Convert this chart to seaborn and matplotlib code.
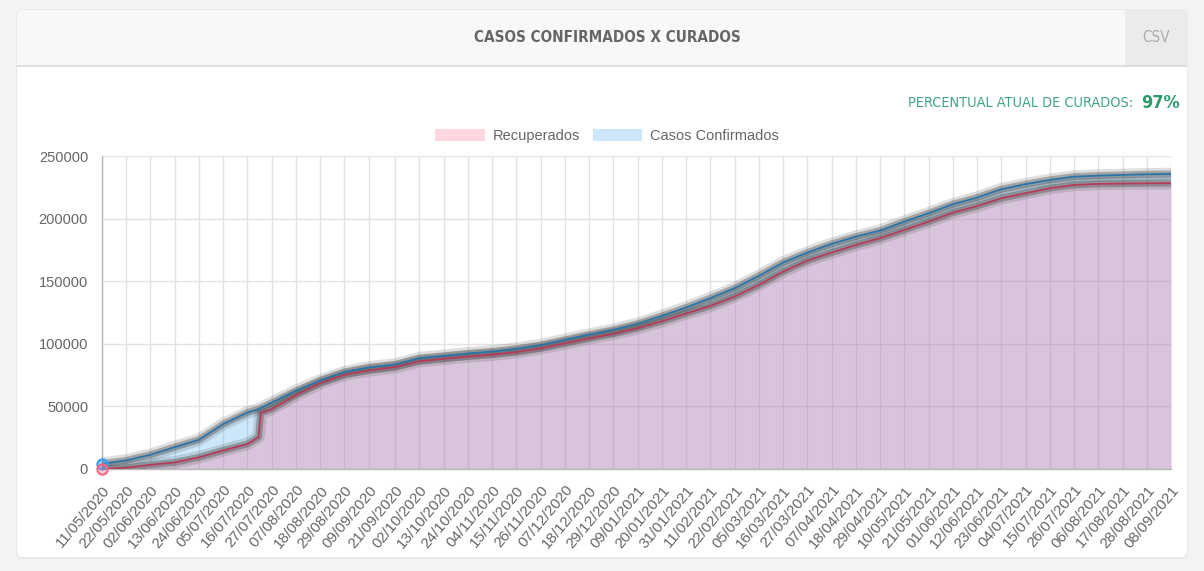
# painel "casos confirmados x curados" - recriado com seaborn

import matplotlib
matplotlib.use("Agg")
import matplotlib.pyplot as plt
from matplotlib.patches import FancyBboxPatch, Rectangle, Patch
from matplotlib.transforms import IdentityTransform
import numpy as np
import pandas as pd
import seaborn as sns

# dados (datas dos ticks + o salto de recuperados em 21-22/07/2020)
datas = [
    "11/05/2020", "22/05/2020", "02/06/2020", "13/06/2020", "24/06/2020",
    "05/07/2020", "16/07/2020", "21/07/2020", "22/07/2020", "27/07/2020",
    "07/08/2020", "18/08/2020", "29/08/2020", "09/09/2020", "21/09/2020",
    "02/10/2020", "13/10/2020", "24/10/2020", "04/11/2020", "15/11/2020",
    "26/11/2020", "07/12/2020", "18/12/2020", "29/12/2020", "09/01/2021",
    "20/01/2021", "31/01/2021", "11/02/2021", "22/02/2021", "05/03/2021",
    "16/03/2021", "27/03/2021", "07/04/2021", "18/04/2021", "29/04/2021",
    "10/05/2021", "21/05/2021", "01/06/2021", "12/06/2021", "23/06/2021",
    "04/07/2021", "15/07/2021", "26/07/2021", "06/08/2021", "17/08/2021",
    "28/08/2021", "08/09/2021",
]
confirmados = [
    4200, 6900, 11400, 17500, 23400,
    35900, 45200, 47800, 48600, 53000,
    62500, 70700, 77400, 81100, 83500,
    88600, 90400, 92300, 93900, 96000,
    99000, 103200, 107400, 111200, 116000,
    122300, 129000, 136500, 144400, 154300,
    164900, 172900, 179800, 185600, 190400,
    197600, 204300, 211500, 216800, 223500,
    227500, 230900, 233500, 234300, 234900,
    235400, 235700,
]
recuperados = [
    0, 1000, 3400, 5300, 9300,
    14900, 20000, 25500, 44700, 47900,
    59000, 68600, 75300, 78700, 81400,
    86000, 88000, 89800, 91300, 93300,
    96300, 100300, 104300, 108000, 112500,
    118000, 124200, 130300, 137800, 147100,
    157700, 166500, 172900, 179000, 184400,
    191000, 197600, 204800, 210000, 216300,
    220300, 224300, 226900, 227700, 228000,
    228200, 228300,
]
tick_labels = [d for d in datas if d not in ("21/07/2020", "22/07/2020")]
yticks = [0, 50000, 100000, 150000, 200000, 250000]
percentual = "97%"

AZUL = (54 / 255, 162 / 255, 235 / 255)
ROSA = (255 / 255, 99 / 255, 132 / 255)
LINHA_AZUL = "#2a74a8"
LINHA_ROSA = "#b83a58"
CINZA_TXT = "#666666"
GRADE = "#e2e2e2"

sns.set_theme(style="white")
plt.rcParams["font.family"] = ["Liberation Sans", "DejaVu Sans"]

W, H = 1204, 571
fig = plt.figure(figsize=(W / 100, H / 100), dpi=100, facecolor="#f3f3f3")


def px(x0, y0, x1, y1):
    # retangulo em pixels (origem no topo) -> coordenadas de display
    return x0, H - y1, x1 - x0, y1 - y0


def fx(x):
    return x / W


def fy(y):
    return 1 - y / H


# cartao branco com sombra leve
x, y, w, h = px(17, 10, 1187, 557)
fig.add_artist(FancyBboxPatch((x - 1, y - 2), w + 2, h + 3,
                              boxstyle="round,pad=0,rounding_size=6",
                              transform=IdentityTransform(), facecolor="#e9e9e9",
                              edgecolor="none", zorder=0))
fig.add_artist(FancyBboxPatch((x, y), w, h, boxstyle="round,pad=0,rounding_size=6",
                              transform=IdentityTransform(), facecolor="white",
                              edgecolor="none", zorder=0))

# cabecalho
x, y, w, h = px(17, 10, 1187, 66)
fig.add_artist(FancyBboxPatch((x, y), w, h, boxstyle="round,pad=0,rounding_size=5",
                              transform=IdentityTransform(), facecolor="#f9f8f9",
                              edgecolor="none", zorder=1))
x, y, w, h = px(17, 40, 1187, 66)
fig.add_artist(Rectangle((x, y), w, h, transform=IdentityTransform(),
                         facecolor="#f9f8f9", edgecolor="none", zorder=1))
x, y, w, h = px(1125, 10, 1187, 66)
fig.add_artist(Rectangle((x, y), w, h, transform=IdentityTransform(),
                         facecolor="#ebebeb", edgecolor="none", zorder=1))
x, y, w, h = px(17, 65, 1187, 67)
fig.add_artist(Rectangle((x, y), w, h, transform=IdentityTransform(),
                         facecolor="#dedede", edgecolor="none", zorder=1))

fig.text(fx(607), fy(38), "CASOS CONFIRMADOS X CURADOS", ha="center", va="center",
         fontsize=11, fontweight="bold", fontstretch="condensed",
         family=["DejaVu Sans"], color=CINZA_TXT, zorder=2)
fig.text(fx(1156), fy(38), "CSV", ha="center", va="center", fontsize=11,
         fontstretch="condensed", family=["DejaVu Sans"], color="#ababab", zorder=2)

# percentual de curados
fig.text(fx(1180), fy(103), percentual, ha="right", va="center", fontsize=13,
         fontweight="bold", fontstretch="condensed", family=["DejaVu Sans"],
         color="#2e9a6c", zorder=2)
fig.text(fx(1133), fy(103), "PERCENTUAL ATUAL DE CURADOS:", ha="right", va="center",
         fontsize=10.4, fontstretch="condensed", family=["DejaVu Sans"],
         color="#41a67e", zorder=2)

# grafico
ax = fig.add_axes([fx(102), fy(469), fx(1171) - fx(102), fy(156) - fy(469)])
ax.set_facecolor("none")

df = pd.DataFrame({
    "data": pd.to_datetime(datas, format="%d/%m/%Y"),
    "confirmados": confirmados,
    "recuperados": recuperados,
})

ax.fill_between(df["data"], 0, df["confirmados"], color=AZUL, alpha=0.25, lw=0, zorder=2)
ax.fill_between(df["data"], 0, df["recuperados"], color=ROSA, alpha=0.25, lw=0, zorder=2)

# linhas com sombra cinza (os pontos do chart.js viram uma faixa borrada)
for col, cor in [("recuperados", LINHA_ROSA), ("confirmados", LINHA_AZUL)]:
    sns.lineplot(data=df, x="data", y=col, ax=ax, color="#4d4d4d", lw=9, alpha=0.18,
                 legend=False, zorder=3)
    sns.lineplot(data=df, x="data", y=col, ax=ax, color="#4d4d4d", lw=5, alpha=0.4,
                 legend=False, zorder=3)
    sns.lineplot(data=df, x="data", y=col, ax=ax, color=cor, lw=1.3, legend=False, zorder=4)

# pontos iniciais
ax.scatter([df["data"].iloc[0]], [confirmados[0]], s=55, color=(*AZUL, 0.5),
           edgecolor=AZUL, lw=1.5, zorder=5, clip_on=False)
ax.scatter([df["data"].iloc[0]], [recuperados[0]], s=55, color=(*ROSA, 0.3),
           edgecolor=ROSA, lw=1.5, zorder=5, clip_on=False)

ax.set_xlim(df["data"].iloc[0], df["data"].iloc[-1])
ax.set_ylim(0, 250000)
ax.set_yticks(yticks)
ax.set_yticklabels([str(v) for v in yticks])
ax.set_xticks(pd.to_datetime(tick_labels, format="%d/%m/%Y"))
ax.set_xticklabels(tick_labels, rotation=50, ha="right", rotation_mode="anchor")
ax.set_xlabel("")
ax.set_ylabel("")

ax.grid(True, color=GRADE, lw=1)
ax.set_axisbelow(True)
ax.tick_params(axis="both", length=7, width=1, color=GRADE, labelcolor=CINZA_TXT,
               pad=3)
ax.tick_params(axis="x", labelsize=11)
ax.tick_params(axis="y", labelsize=10.5)
for lado in ["top", "right"]:
    ax.spines[lado].set_visible(False)
for lado in ["left", "bottom"]:
    ax.spines[lado].set_color("#b8b8b8")
    ax.spines[lado].set_linewidth(1)

# legenda
handles = [
    Patch(facecolor=(*ROSA, 0.25), edgecolor="none", label="Recuperados"),
    Patch(facecolor=(*AZUL, 0.25), edgecolor="none", label="Casos Confirmados"),
]
leg = fig.legend(handles=handles, loc="center", bbox_to_anchor=(fx(607), fy(136)),
                 ncol=2, frameon=False, fontsize=10.5, handlelength=3.4,
                 handleheight=0.9, handletextpad=0.5, columnspacing=0.9)
for t in leg.get_texts():
    t.set_color(CINZA_TXT)

fig.savefig("out.png", dpi=100, facecolor=fig.get_facecolor())
